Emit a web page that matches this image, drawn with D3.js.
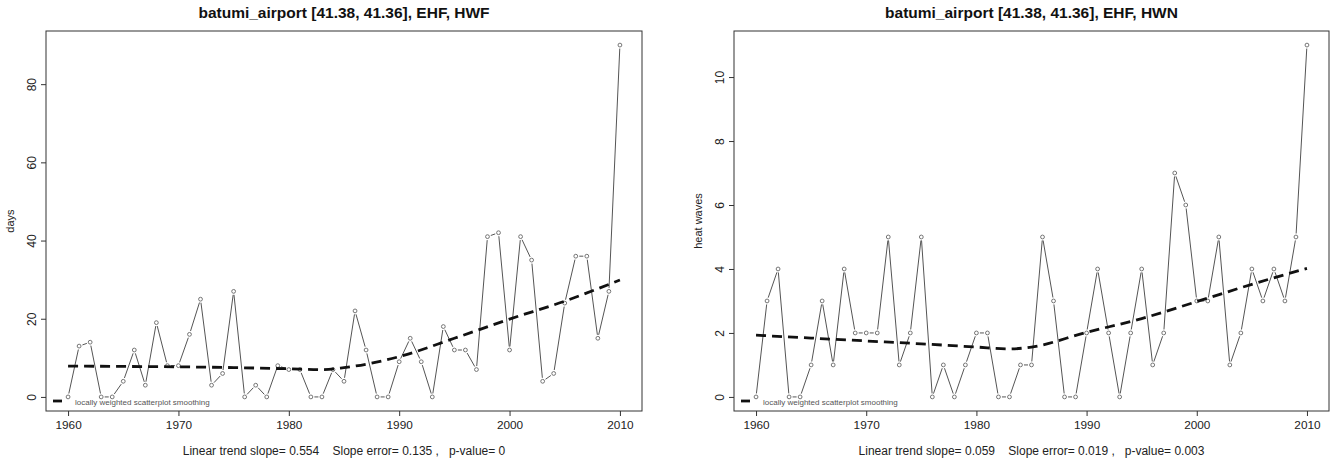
<!DOCTYPE html>
<html>
<head>
<meta charset="utf-8">
<script src="https://cdn.jsdelivr.net/npm/d3@7"></script>
<style>
body { margin: 0; background: #fff; }
text { font-family: "Liberation Sans", Arial, sans-serif; }
</style>
</head>
<body>
<script>
const W = 1330, H = 460;

const years = d3.range(1960, 2011);
const hwf = [0,13,14,0,0,4,12,3,19,8, 8,16,25,3,6,27,0,3,0,8, 7,7,0,0,7,4,22,12,0,0,
             9,15,9,0,18,12,12,7,41,42, 12,41,35,4,6,24,36,36,15,27, 90];
const hwn = [0,3,4,0,0,1,3,1,4,2, 2,2,5,1,2,5,0,1,0,1, 2,2,0,0,1,1,5,3,0,0,
             2,4,2,0,2,4,1,2,7,6, 3,3,5,1,2,4,3,4,3,5, 11];
const loessYears = [1960,1965,1970,1975,1980,1983,1985,1990,1995,2000,2005,2010];
const loessHWF = [7.9,7.8,7.7,7.5,7.2,7.0,7.5,10.3,15.0,19.9,24.5,29.9];
const loessHWN = [1.93,1.84,1.75,1.66,1.56,1.50,1.56,2.02,2.45,2.98,3.52,4.02];

const panels = [
  {title: 'batumi_airport [41.38, 41.36], EHF, HWF', ylab: 'days', vals: hwf, loess: loessHWF,
   yMax: 90, yTicks: [0,20,40,60,80], x0: 46, x1: 642,
   foot: 'Linear trend slope= 0.554    Slope error= 0.135 ,   p-value= 0'},
  {title: 'batumi_airport [41.38, 41.36], EHF, HWN', ylab: 'heat waves', vals: hwn, loess: loessHWN,
   yMax: 11, yTicks: [0,2,4,6,8,10], x0: 734, x1: 1329,
   foot: 'Linear trend slope= 0.059    Slope error= 0.019 ,   p-value= 0.003'}
];

const svg = d3.select('body').append('svg').attr('width', W).attr('height', H);
const plotTop = 31, plotBottom = 411;

panels.forEach(p => {
  const g = svg.append('g');
  const pad = p.yMax * 0.04;
  const x = d3.scaleLinear().domain([1958, 2012]).range([p.x0, p.x1]);
  const y = d3.scaleLinear().domain([-pad, p.yMax + pad]).range([plotBottom, plotTop]);
  const cx = (p.x0 + p.x1) / 2;

  // box
  g.append('rect').attr('x', p.x0).attr('y', plotTop).attr('width', p.x1 - p.x0).attr('height', plotBottom - plotTop)
    .attr('fill', 'none').attr('stroke', '#333').attr('stroke-width', 1);

  // axes
  const xa = g.append('g').attr('transform', `translate(0,${plotBottom})`)
    .call(d3.axisBottom(x).tickValues([1960,1970,1980,1990,2000,2010]).tickFormat(d3.format('d')).tickSize(5).tickPadding(5));
  xa.select('.domain').remove();
  xa.selectAll('line').attr('stroke', '#333');
  xa.selectAll('text').attr('font-size', 11.8).attr('fill', '#222').attr('font-family', 'Liberation Sans, Arial, sans-serif');

  const ya = g.append('g').attr('transform', `translate(${p.x0},0)`)
    .call(d3.axisLeft(y).tickValues(p.yTicks).tickSize(5).tickFormat(d3.format('d')));
  ya.select('.domain').remove();
  ya.selectAll('line').attr('stroke', '#333');
  ya.selectAll('text').attr('font-size', 12).attr('fill', '#222').attr('font-family', 'Liberation Sans, Arial, sans-serif')
    .attr('text-anchor', 'middle').attr('x', 0).attr('dy', 0)
    .attr('transform', 'translate(-10,0) rotate(-90)');

  // titles
  g.append('text').attr('x', cx).attr('y', 18).attr('text-anchor', 'middle')
    .attr('font-size', 15.5).attr('font-weight', 'bold').attr('fill', '#111').text(p.title);
  g.append('text').attr('x', cx).attr('y', 455).attr('text-anchor', 'middle')
    .attr('font-size', 12).attr('fill', '#222').style('white-space', 'pre').text(p.foot);
  g.append('text').attr('transform', `translate(${p.x0 - 32},${(plotTop + plotBottom) / 2}) rotate(-90)`)
    .attr('text-anchor', 'middle').attr('font-size', 11).attr('fill', '#222').text(p.ylab);

  // data line with gaps around points (type = "b")
  const pts = years.map((yr, i) => [x(yr), y(p.vals[i])]);
  const gap = 3.5;
  const segs = d3.pairs(pts).map(([a, b]) => {
    const dx = b[0] - a[0], dy = b[1] - a[1], len = Math.hypot(dx, dy);
    if (len <= 2 * gap) return null;
    const ux = dx / len, uy = dy / len;
    return [a[0] + ux * gap, a[1] + uy * gap, b[0] - ux * gap, b[1] - uy * gap];
  }).filter(s => s);
  g.selectAll('.seg').data(segs).enter().append('line')
    .attr('x1', d => d[0]).attr('y1', d => d[1]).attr('x2', d => d[2]).attr('y2', d => d[3])
    .attr('stroke', '#555').attr('stroke-width', 1);
  g.selectAll('.pt').data(pts).enter().append('circle')
    .attr('cx', d => d[0]).attr('cy', d => d[1]).attr('r', 1.9)
    .attr('fill', 'none').attr('stroke', '#666').attr('stroke-width', 0.9);

  // loess
  const line = d3.line().x((d, i) => x(loessYears[i])).y(d => y(d)).curve(d3.curveMonotoneX);
  g.append('path').attr('d', line(p.loess)).attr('fill', 'none').attr('stroke', '#111')
    .attr('stroke-width', 2.8).attr('stroke-dasharray', '10,6');

  // legend
  g.append('line').attr('x1', p.x0 + 7).attr('x2', p.x0 + 16).attr('y1', 401).attr('y2', 401)
    .attr('stroke', '#111').attr('stroke-width', 2.8);
  g.append('text').attr('x', p.x0 + 29).attr('y', 405).attr('font-size', 8).attr('fill', '#555')
    .text('locally weighted scatterplot smoothing');
});
</script>
</body>
</html>
